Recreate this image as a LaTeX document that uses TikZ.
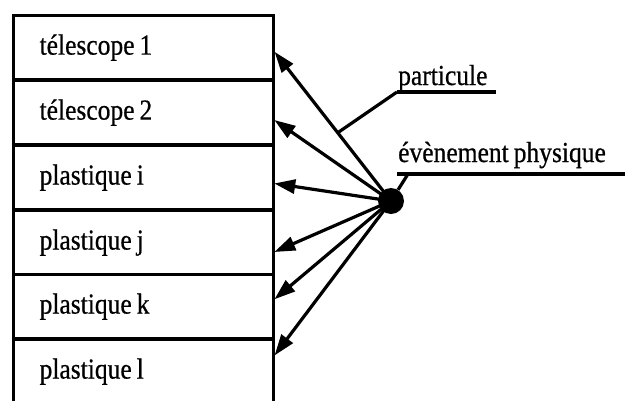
\documentclass[tikz,border=0pt]{standalone}
\usepackage{fontspec}
\setmainfont{Liberation Serif}[FakeStretch=0.88,FakeBold=0.6]
\usetikzlibrary{arrows.meta,calc}
\newcommand\myrowfont{\fontsize{29}{32}\selectfont\fontdimen2\font=5pt\relax}
\tikzset{
  row/.style={draw, line width=3.2pt, minimum width=260pt, minimum height=64pt, inner sep=0pt,
    inner xsep=26pt, text width=208pt, align=flush left,
    font=\myrowfont, anchor=north west},
  arr/.style={line width=3.2pt, -{Triangle[length=21pt,width=14pt]}, shorten >=-1pt},
  lead/.style={line width=3.2pt},
  lbl/.style={font=\myrowfont, inner sep=0pt, anchor=base west},
}
\begin{document}
\begin{tikzpicture}[x=1pt,y=-1pt]
\useasboundingbox (0,0) rectangle (625,400);
\node[row] (t1) at (12,14) {télescope 1};
\node[row] (t2) at (12,79) {télescope 2};
\node[row] (pi) at (12,144) {plastique i};
\node[row] (pj) at (12,209) {plastique j};
\node[row] (pk) at (12,273) {plastique k};
\node[row] (pl) at (12,338) {plastique l};
\node[circle, fill, minimum size=26pt, inner sep=0pt] (ev) at (391,201) {};
\coordinate (a1) at ([yshift=-5pt]t1.east);
\coordinate (a2) at ([yshift=-8pt]t2.east);
\coordinate (a3) at ([yshift=-6pt]pi.east);
\coordinate (a4) at ([yshift=-9pt]pj.east);
\coordinate (a5) at ([yshift=8pt]pk.east);
\coordinate (a6) at ([yshift=17pt]pl.east);
\foreach \c in {a1,a2,a3,a4,a5,a6}{\draw[arr] (ev.center) -- (\c);}
\coordinate (pp) at ($(ev.center)!0.46!(a1)$);
\node[lbl] (lp) at (398,85) {particule};
\draw[lead] (lp.base west)+(-1,7) coordinate (u1) -- ++(98,7);
\draw[lead] (u1) -- (pp);
\node[lbl] (le) at (398,162) {évènement physique};
\draw[lead] (397,174) -- (625,174);
\draw[lead] (408,174) -- (ev);
\end{tikzpicture}
\end{document}
